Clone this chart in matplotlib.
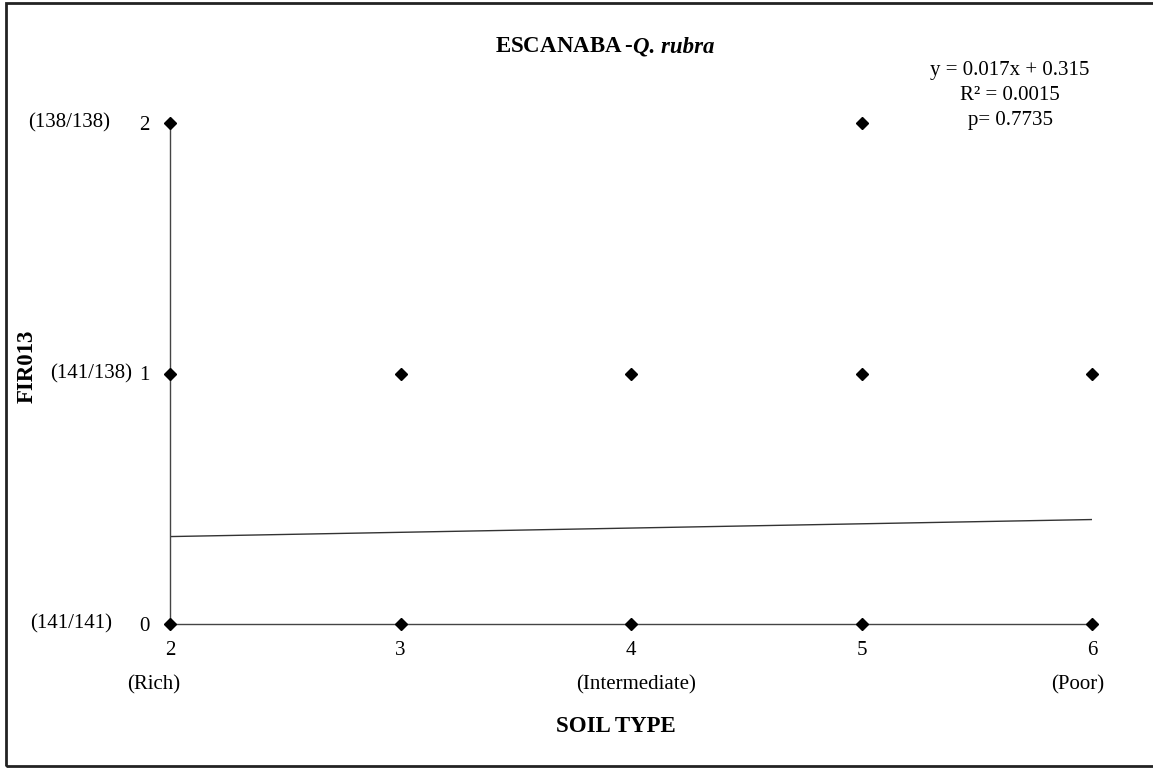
import matplotlib
matplotlib.use('Agg')
import matplotlib.pyplot as plt
import matplotlib.patches as patches
import matplotlib.transforms as mtransforms
import numpy as np

plt.rcParams['font.family'] = ['Liberation Serif', 'DejaVu Serif']

# data
soil_x = [2, 2, 2, 3, 3, 4, 4, 5, 5, 5, 6, 6]
fir013 = [0, 1, 2, 0, 1, 0, 1, 0, 1, 2, 0, 1]
slope = 0.017
intercept = 0.315
fit_x = [2, 6]
x_ticks = [2, 3, 4, 5, 6]
y_ticks = [0, 1, 2]
genotypes = ['(141/141)', '(141/138)', '(138/138)']
soil_names = ['(Rich)', '(Intermediate)', '(Poor)']
soil_name_x = [2, 4, 6]

W, H = 1153, 773
X0, X1, Y0, Y1 = 170, 1092, 624, 123   # axes box in pixels
fig = plt.figure(figsize=(W / 100, H / 100), dpi=100)
ax = fig.add_axes([X0 / W, 1 - Y0 / H, (X1 - X0) / W, (Y0 - Y1) / H])

ax.plot(soil_x, fir013, 'D', color='black', markersize=6, clip_on=False, zorder=3)
fx = np.array(fit_x)
ax.plot(fx, slope * fx + intercept, color='#333333', linewidth=1.0)

ax.set_xlim(2, 6)
ax.set_ylim(0, 2)
ax.set_xticks(x_ticks)
ax.set_yticks(y_ticks)
ax.tick_params(length=0, labelsize=15)
ax.tick_params(axis='x', pad=12)
ax.tick_params(axis='y', pad=15)
for s in ['top', 'right']:
    ax.spines[s].set_visible(False)
for s in ['left', 'bottom']:
    ax.spines[s].set_color('#444444')
    ax.spines[s].set_linewidth(1.0)

# genotype labels next to y ticks
geno_right = [112, 132, 110]
tr = mtransforms.blended_transform_factory(fig.transFigure, ax.transData)
for y, g, xr in zip(y_ticks, genotypes, geno_right):
    ax.text(xr / W, y, g, transform=tr, ha='right', va='center', fontsize=15)

# soil type names under x ticks
name_shift = [-16.5, 5, -14.5]   # pixels
px_per_unit = (X1 - X0) / 4
for x, name, dx in zip(soil_name_x, soil_names, name_shift):
    ax.text(x + dx / px_per_unit, -(685 - Y0) / ((Y0 - Y1) / 2), name,
            ha='center', va='center', fontsize=15)

fig.text(616 / W, 1 - 726 / H, 'SOIL TYPE', ha='center', va='center',
         fontsize=16.5, fontweight='bold')
fig.text(27 / W, 1 - 366 / H, 'FIR013', ha='center', va='center',
         fontsize=16.5, fontweight='bold', rotation=90)

fig.text(633 / W, 1 - 47 / H, r'ESCANABA$\,$-', ha='right', va='center',
         fontsize=16.5, fontweight='bold')
fig.text(633 / W, 1 - 47 / H, 'Q. rubra', ha='left', va='center',
         fontsize=16.5, fontweight='bold', style='italic')

eq_lines = ['y = 0.017x + 0.315', 'R\u00b2 = 0.0015', 'p= 0.7735']
for line, yp in zip(eq_lines, [71, 95, 120]):
    fig.text(1010 / W, 1 - yp / H, line, ha='center', va='center', fontsize=15)

# frame: top, left and bottom edges only visible
border = patches.Rectangle((6 / W, 7 / H), 1.0, 1 - 10 / H,
                           transform=fig.transFigure, fill=False,
                           edgecolor='#222222', linewidth=2.0, clip_on=False)
fig.patches.append(border)

fig.savefig('out.png', dpi=100)
